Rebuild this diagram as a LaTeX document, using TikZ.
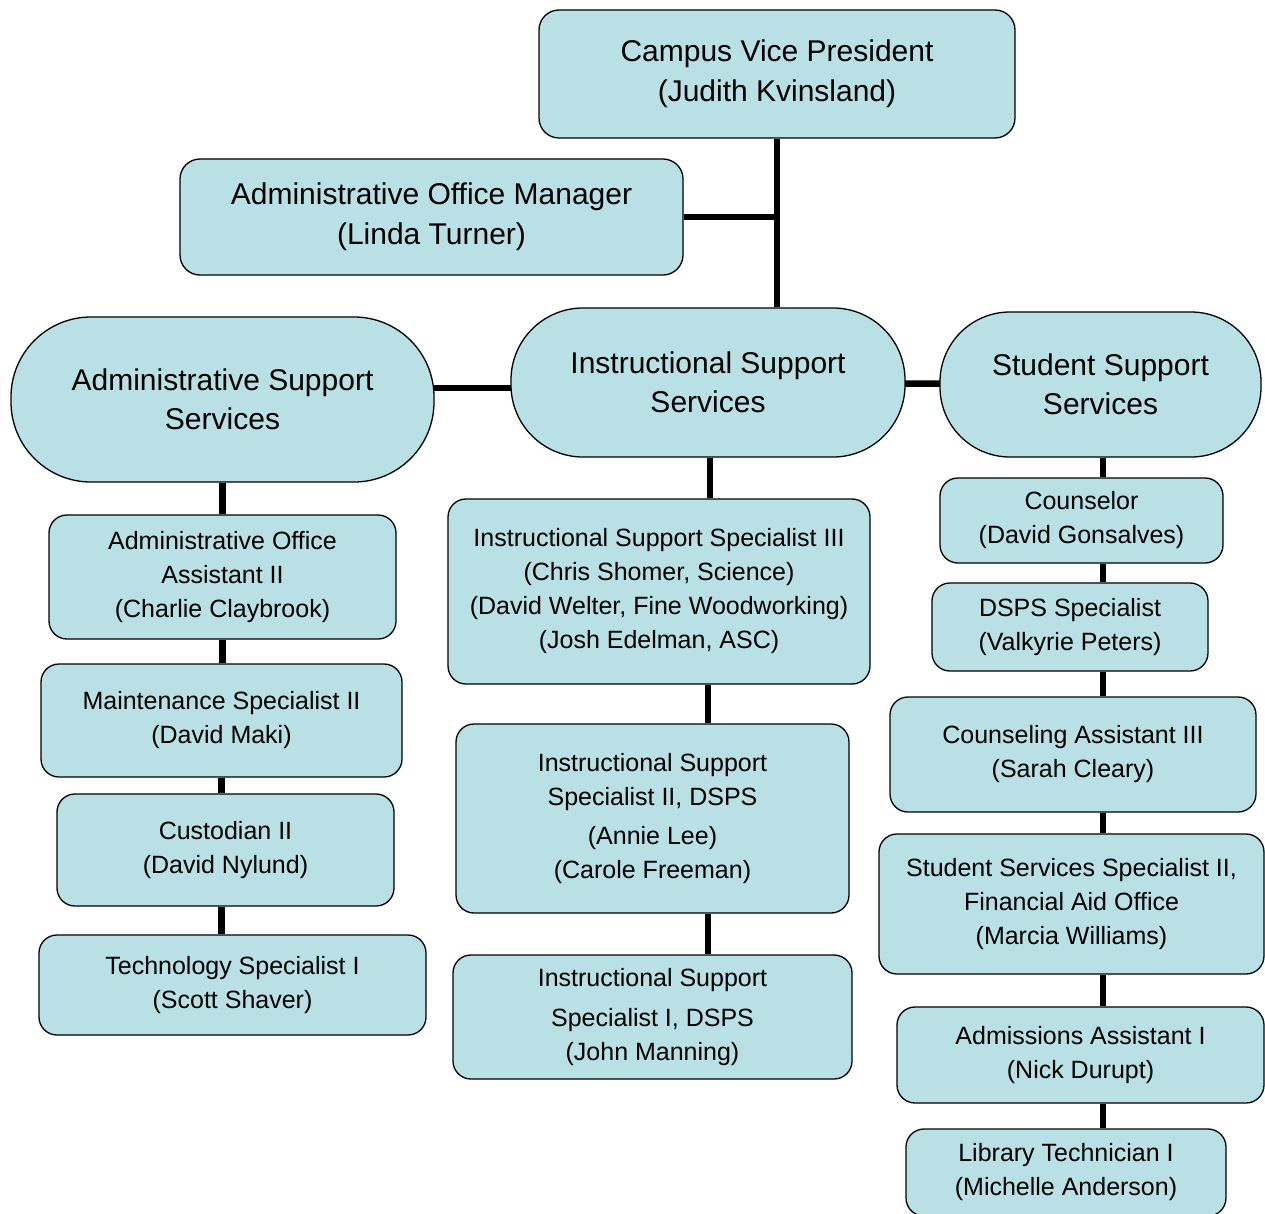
\documentclass[tikz,border=0pt]{standalone}
\usepackage{fontspec}
\setmainfont{Liberation Sans}
\usetikzlibrary{backgrounds}
\definecolor{boxfill}{RGB}{185,224,228}
\tikzset{
  unit/.style={draw=black, line width=1.3pt, fill=boxfill, inner sep=0pt,
    align=center, text=black},
  big/.style={unit, rounded corners=20pt, font=\fontsize{30}{40}\selectfont},
  small/.style={unit, rounded corners=18pt, font=\fontsize{25}{34}\selectfont},
  pill/.style={unit, font=\fontsize{30}{39}\selectfont},
  wh/.style 2 args={minimum width=#1pt, minimum height=#2pt},
  link/.style={line width=6.5pt, draw=black}
}
\begin{document}
\begin{tikzpicture}[x=1pt, y=-1pt]
\useasboundingbox (0,0) rectangle (1265,1214);

% top level
\node[big, wh={476}{128}] (vp) at (777,74) {Campus Vice President\\(Judith Kvinsland)};
\node[big, wh={503}{116}] (aom) at (431.5,217) {Administrative Office Manager\\(Linda Turner)};

% divisions
\node[pill, rounded corners=80pt, wh={423}{165}] (ass) at (222.5,399.5) {Administrative Support\\Services};
\node[pill, rounded corners=72pt, wh={394}{149}] (iss) at (708,382.5) {Instructional Support\\Services};
\node[pill, rounded corners=70pt, wh={321}{145}] (sss) at (1100.5,384.5) {Student Support\\Services};

% administrative support column
\node[small, wh={347}{124}] (aoa) at (222.5,577) {Administrative Office\\Assistant II\\(Charlie Claybrook)};
\node[small, wh={361}{113}] (ms) at (221.5,720.5) {Maintenance Specialist II\\(David Maki)};
\node[small, wh={337}{112}] (cust) at (225.5,850) {Custodian II\\(David Nylund)};
\node[small, wh={387}{100}] (tech) at (232.5,985) {Technology Specialist I\\(Scott Shaver)};

% instructional support column
\node[small, wh={422}{185}] (isthree) at (659,591.5) {Instructional Support Specialist III\\(Chris Shomer, Science)\\(David Welter, Fine Woodworking)\\(Josh Edelman, ASC)};
\node[small, wh={393}{189}] (istwo) at (652.5,818.5) {Instructional Support\\Specialist II, DSPS\\[5pt](Annie Lee)\\(Carole Freeman)};
\node[small, wh={399}{124}] (isone) at (652.5,1017) {Instructional Support\\[6pt]Specialist I, DSPS\\(John Manning)};

% student support column
\node[small, wh={283}{85}] (couns) at (1081.5,520.5) {Counselor\\(David Gonsalves)};
\node[small, wh={276}{88}] (dsps) at (1070,627) {DSPS Specialist\\(Valkyrie Peters)};
\node[small, wh={366}{115}] (cathree) at (1073,754.5) {Counseling Assistant III\\(Sarah Cleary)};
\node[small, wh={385}{140}] (sstwo) at (1071.5,904) {Student Services Specialist II,\\Financial Aid Office\\(Marcia Williams)};
\node[small, wh={367}{96}] (adm) at (1080.5,1055) {Admissions Assistant I\\(Nick Durupt)};
\node[small, wh={320}{87}] (lib) at (1066,1172.5) {Library Technician I\\(Michelle Anderson)};

\begin{scope}[on background layer]
  % reporting lines
  \draw[link] (vp.south) -- (vp.south |- iss.north);
  \draw[link] (aom.east) -- (aom.east -| vp.south);
  \draw[link] ([yshift=11.5pt]ass.center) -- ([yshift=11.5pt]ass.center -| iss.center);
  \draw[link] (iss.center) -- (sss.center);

  \draw[link] (ass.south) -- (ass.south |- aoa.north);
  \draw[link] (aoa.south) -- (aoa.south |- ms.north);
  \draw[link] (ms.south) -- (ms.south |- cust.north);
  \draw[link] (ms.south |- cust.south) -- (ms.south |- tech.north);

  \draw[link] ([xshift=2pt]iss.south) -- ([xshift=2pt]iss.south |- isthree.north);
  \draw[link] (iss.south |- isthree.south) -- (iss.south |- istwo.north);
  \draw[link] (iss.south |- istwo.south) -- (iss.south |- isone.north);

  \draw[link] ([xshift=2.5pt]sss.south) -- ([xshift=2.5pt]sss.south |- couns.north);
  \draw[link] ([xshift=2.5pt]sss.south |- couns.south) -- ([xshift=2.5pt]sss.south |- dsps.north);
  \draw[link] ([xshift=2.5pt]sss.south |- dsps.south) -- ([xshift=2.5pt]sss.south |- cathree.north);
  \draw[link] ([xshift=2.5pt]sss.south |- cathree.south) -- ([xshift=2.5pt]sss.south |- sstwo.north);
  \draw[link] ([xshift=2.5pt]sss.south |- sstwo.south) -- ([xshift=2.5pt]sss.south |- adm.north);
  \draw[link] ([xshift=2.5pt]sss.south |- adm.south) -- ([xshift=2.5pt]sss.south |- lib.north);
\end{scope}
\end{tikzpicture}
\end{document}
